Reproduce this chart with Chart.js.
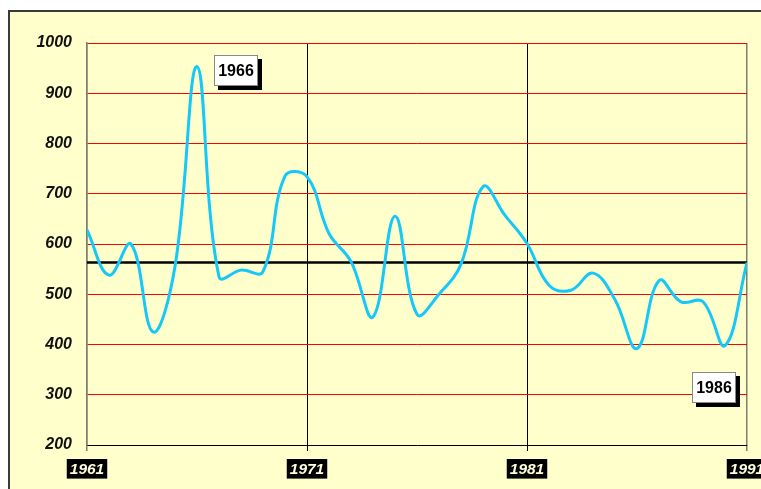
<!DOCTYPE html>
<html>
<head>
<meta charset="utf-8">
<script src="https://cdn.jsdelivr.net/npm/chart.js@4/dist/chart.umd.min.js"></script>
<style>
  html, body { margin: 0; padding: 0; background: #ffffff; overflow: hidden; }
  #wrap { position: absolute; left: 0; top: 0; width: 761px; height: 489px; }
</style>
</head>
<body>
<div id="wrap"><canvas id="c" width="761" height="489"></canvas></div>
<script>
// ---- data ----
const years = [1961,1962,1963,1964,1965,1966,1967,1968,1969,1970,
               1971,1972,1973,1974,1975,1976,1977,1978,1979,1980,
               1981,1982,1983,1984,1985,1986,1987,1988,1989,1990,1991];
const values = [628,538,600,425,555,953,535,548,545,735,
                734,621,565,455,655,460,500,560,714,657,
                601,518,508,542,489,392,527,485,485,398,563];
const meanValue = 563;
const xTickYears = [1961, 1971, 1981, 1991];
const xTickLabels = ['1961', '1971', '1981', '1991'];
const yTickValues = [200, 300, 400, 500, 600, 700, 800, 900, 1000];
const yTickLabels = ['200', '300', '400', '500', '600', '700', '800', '900', '1000'];
const noteTexts = ['1966', '1986'];

const FONT = "'Liberation Sans', Arial, sans-serif";

const bgPlugin = {
  id: 'bg',
  beforeDraw(chart) {
    const ctx = chart.ctx;
    ctx.save();
    ctx.fillStyle = '#ffffff';
    ctx.fillRect(0, 0, chart.width, chart.height);
    ctx.fillStyle = '#FFFFCC';
    ctx.fillRect(9, 11, chart.width + 20, chart.height + 20);
    ctx.strokeStyle = '#3a3a3a';
    ctx.lineWidth = 2;
    ctx.strokeRect(9, 11, chart.width + 20, chart.height + 20);
    ctx.restore();
  }
};

const notePlugin = {
  id: 'notes',
  afterDatasetsDraw(chart, args, opts) {
    const ctx = chart.ctx;
    const xs = chart.scales.x, ys = chart.scales.y;
    ctx.save();
    opts.items.forEach((it, i) => {
      const px = Math.round(xs.getPixelForValue(it.x));
      const py = Math.round(ys.getPixelForValue(it.y));
      const w = it.w, h = it.h;
      ctx.fillStyle = '#000000';
      ctx.fillRect(px + 4, py + 4, w, h);
      ctx.fillStyle = '#ffffff';
      ctx.fillRect(px, py, w, h);
      ctx.strokeStyle = '#888888';
      ctx.lineWidth = 1;
      ctx.strokeRect(px + 0.5, py + 0.5, w - 1, h - 1);
      ctx.fillStyle = '#000000';
      ctx.font = 'bold 16px ' + FONT;
      ctx.textAlign = 'center';
      ctx.textBaseline = 'middle';
      ctx.fillText(noteTexts[i], px + w / 2, py + h / 2 + 1);
    });
    ctx.restore();
  }
};

new Chart(document.getElementById('c'), {
  type: 'line',
  data: {
    datasets: [
      {
        data: years.map((yr, i) => ({ x: yr, y: values[i] })),
        borderColor: '#16C8F8',
        borderWidth: 3,
        pointRadius: 0,
        tension: 0.4,
        fill: false,
        order: 1
      },
      {
        data: [{ x: years[0], y: meanValue }, { x: years[years.length - 1], y: meanValue }],
        borderColor: '#000000',
        borderWidth: 2.5,
        pointRadius: 0,
        tension: 0,
        fill: false,
        order: 2
      }
    ]
  },
  options: {
    responsive: false,
    devicePixelRatio: 1,
    animation: false,
    layout: { padding: { top: 43, right: 14, left: 0, bottom: 0 } },
    plugins: {
      legend: { display: false },
      tooltip: { enabled: false },
      notes: {
        items: [
          { x: 1966.76, y: 976, w: 44, h: 31 },
          { x: 1988.52, y: 346, w: 44, h: 31 }
        ]
      }
    },
    scales: {
      x: {
        type: 'linear',
        min: 1961,
        max: 1991,
        afterBuildTicks: s => { s.ticks = xTickYears.map(v => ({ value: v })); },
        afterFit: s => { s.height = 44; s.paddingLeft = 0; s.paddingRight = 0; },
        ticks: {
          autoSkip: false,
          maxRotation: 0,
          callback: (v) => xTickLabels[xTickYears.indexOf(v)],
          font: { family: FONT, size: 15.5, style: 'italic', weight: 'bold' },
          color: '#FFFFDD',
          showLabelBackdrop: true,
          backdropColor: '#000000',
          backdropPadding: { left: 3, right: 3, top: 1, bottom: 0 },
          padding: 9
        },
        grid: {
          drawTicks: true,
          tickLength: 6,
          color: ctx => {
            const v = ctx.tick ? ctx.tick.value : 0;
            return (v === 1961 || v === 1991) ? '#7f7f70' : '#000000';
          },
          lineWidth: ctx => {
            const v = ctx.tick ? ctx.tick.value : 0;
            return (v === 1961 || v === 1991) ? 1.5 : 1;
          }
        },
        border: { display: true, color: '#000000', width: 1 }
      },
      y: {
        min: 200,
        max: 1000,
        afterBuildTicks: s => { s.ticks = yTickValues.map(v => ({ value: v })); },
        afterFit: s => { s.width = 87; },
        ticks: {
          callback: (v) => yTickLabels[yTickValues.indexOf(v)],
          font: { family: FONT, size: 16, style: 'italic', weight: 'bold' },
          color: '#111111',
          padding: 15
        },
        grid: {
          drawTicks: false,
          color: ctx => (ctx.tick && ctx.tick.value === 200) ? 'rgba(0,0,0,0)' : '#FF0000',
          lineWidth: 1
        },
        border: { display: true, color: '#7f7f70', width: 1.5 }
      }
    }
  },
  plugins: [bgPlugin, notePlugin]
});
</script>
</body>
</html>
